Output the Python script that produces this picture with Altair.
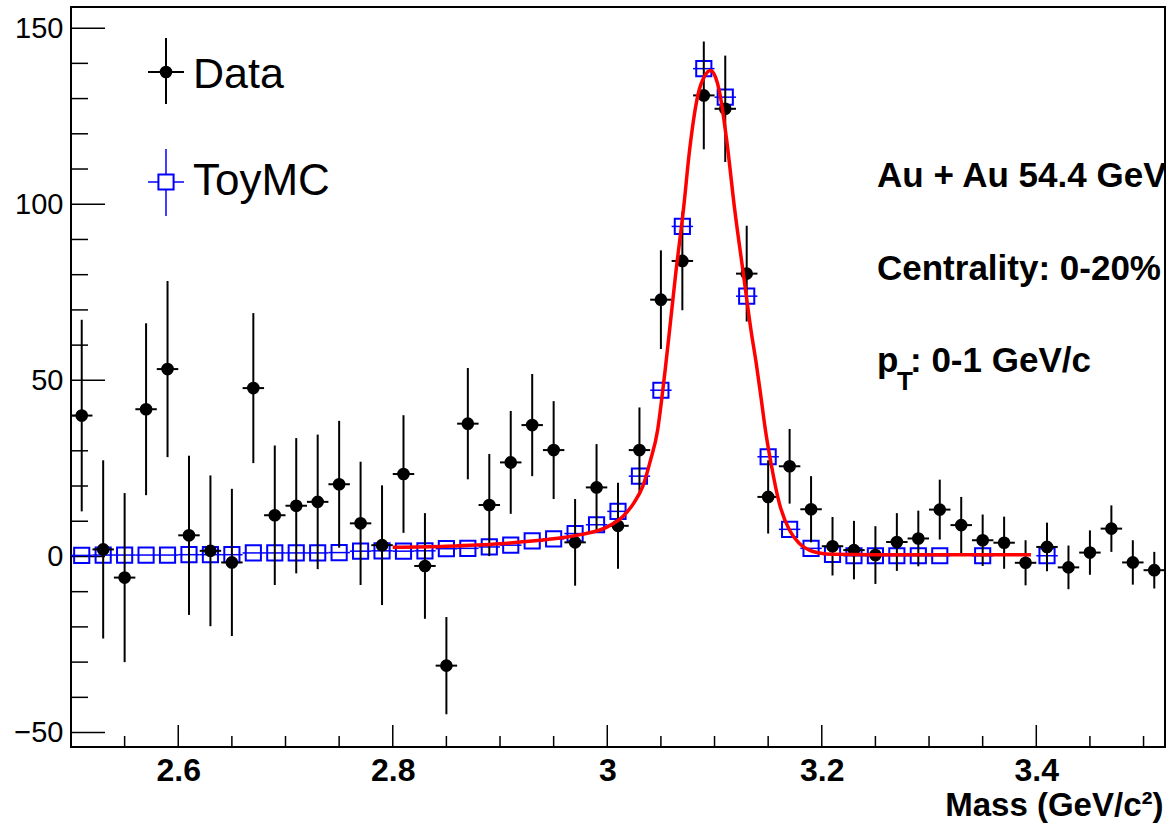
import altair as alt
import pandas as pd

FONT = "Liberation Sans"

# ---- Data ----
mass = [2.51, 2.53, 2.55, 2.57, 2.59, 2.61, 2.63, 2.65, 2.67, 2.69,
        2.71, 2.73, 2.75, 2.77, 2.79, 2.81, 2.83, 2.85, 2.87, 2.89,
        2.91, 2.93, 2.95, 2.97, 2.99, 3.01, 3.03, 3.05, 3.07, 3.09,
        3.11, 3.13, 3.15, 3.17, 3.19, 3.21, 3.23, 3.25, 3.27, 3.29,
        3.31, 3.33, 3.35, 3.37, 3.39, 3.41, 3.43, 3.45, 3.47, 3.49, 3.51]
data_y = [40.0, 2.0, -6.0, 41.8, 53.2, 6.0, 1.6, -1.7, 47.8, 11.7,
          14.4, 15.5, 20.5, 9.4, 3.2, 23.4, -2.7, -31.0, 37.7, 14.6,
          26.7, 37.3, 30.2, 4.0, 19.6, 8.7, 30.2, 72.9, 83.9, 130.9,
          127.1, 80.3, 16.9, 25.6, 13.4, 2.9, 1.8, 0.4, 4.1, 5.1,
          13.3, 8.9, 4.6, 3.9, -1.8, 2.7, -3.1, 1.1, 7.9, -1.7, -3.9]
data_err = [27.2, 25.3, 24.0, 24.4, 25.0, 22.6, 21.4, 20.9, 21.3, 19.8,
            19.2, 19.1, 18.0, 17.5, 17.0, 16.7, 15.0, 13.8, 15.8, 14.5,
            14.6, 14.5, 13.9, 12.3, 12.3, 12.2, 12.1, 14.0, 14.0, 15.3,
            15.1, 13.6, 10.4, 10.6, 9.4, 8.3, 8.3, 8.2, 8.2, 7.9,
            8.5, 8.0, 7.3, 7.4, 6.4, 6.9, 6.2, 6.3, 6.6, 6.3, 5.2]
bin_half = 0.01

toy_mass = [2.51, 2.53, 2.55, 2.57, 2.59, 2.61, 2.63, 2.65, 2.67, 2.69,
            2.71, 2.73, 2.75, 2.77, 2.79, 2.81, 2.83, 2.85, 2.87, 2.89,
            2.91, 2.93, 2.95, 2.97, 2.99, 3.01, 3.03, 3.05, 3.07, 3.09,
            3.11, 3.13, 3.15, 3.17, 3.19, 3.21, 3.23, 3.25, 3.27, 3.29,
            3.31, 3.35, 3.41]
toy_y = [0.3, 0.4, 0.4, 0.4, 0.4, 0.5, 0.5, 0.5, 1.0, 1.0,
         1.0, 1.0, 1.1, 1.5, 1.6, 1.5, 1.6, 2.2, 2.3, 2.7,
         3.2, 4.4, 5.0, 6.5, 9.0, 12.8, 22.8, 47.2, 93.7, 138.5,
         130.4, 73.9, 28.3, 7.7, 2.3, 0.6, 0.2, 0.2, 0.2, 0.2,
         0.2, 0.2, 0.2]

fit_mass = [2.80, 2.85, 2.90, 2.93, 2.95, 2.975, 3.00, 3.015, 3.025, 3.033,
            3.04, 3.047, 3.0505, 3.054, 3.058, 3.0637, 3.0712, 3.0766, 3.0845, 3.091,
            3.0962, 3.101, 3.1046, 3.1114, 3.1186, 3.127, 3.1341, 3.1388, 3.1434, 3.1474,
            3.1527, 3.1605, 3.1698, 3.1791, 3.1884, 3.1978, 3.21, 3.25, 3.30, 3.35, 3.395]
fit_y = [2.6, 2.9, 3.6, 4.4, 5.0, 6.2, 8.4, 11.5, 15.3, 19.8,
         27.0, 36.0, 44.0, 53.0, 64.0, 80.0, 99.0, 115.0, 131.0, 136.5,
         138.0, 136.0, 132.0, 118.0, 99.0, 80.0, 64.0, 55.0, 45.0, 36.0,
         26.4, 15.0, 7.5, 3.7, 1.8, 1.0, 0.6, 0.5, 0.5, 0.5, 0.5]

x_major = [2.6, 2.8, 3.0, 3.2, 3.4]
x_minor = [2.55, 2.65, 2.7, 2.75, 2.85, 2.9, 2.95, 3.05, 3.1, 3.15,
           3.25, 3.3, 3.35, 3.45, 3.5]
y_major = [-50, 0, 50, 100, 150]
y_minor = [-40, -30, -20, -10, 10, 20, 30, 40, 60, 70, 80, 90,
           110, 120, 130, 140]

W, H = 1094, 740

xs = alt.Scale(domain=[2.5, 3.52], nice=False, zero=False)
ys = alt.Scale(domain=[-54.1, 156.0], nice=False, zero=False)

xaxis = alt.Axis(values=x_major, format="~g", labelFont=FONT, labelFontSize=32,
                 labelFontWeight="bold", labelColor="black", labelPadding=8,
                 ticks=False, tickSize=0, domain=False, grid=False,
                 labelOverlap=False,
                 title="Mass (GeV/c²)", titleFont=FONT, titleFontSize=33,
                 titleFontWeight="bold", titleColor="black",
                 titleX=1092, titleY=68, titleAlign="right",
                 titleBaseline="alphabetic")
yaxis = alt.Axis(values=y_major, labelFont=FONT, labelFontSize=29,
                 labelColor="black", labelPadding=8, ticks=False, tickSize=0,
                 domain=False, grid=False, labelOverlap=False, title="")


def X(field):
    return alt.X(field, type="quantitative", scale=xs, axis=xaxis,
                 title="Mass (GeV/c²)")


def Y(field):
    return alt.Y(field, type="quantitative", scale=ys, axis=yaxis, title="")


df = pd.DataFrame({"mass": mass, "y": data_y, "err": data_err})
df_toy = pd.DataFrame({"mass": toy_mass, "y": toy_y})
df_fit = pd.DataFrame({"mass": fit_mass, "y": fit_y})

base = alt.Chart(df).transform_calculate(
    lo="datum.y - datum.err", hi="datum.y + datum.err",
    xlo=f"datum.mass - {bin_half}", xhi=f"datum.mass + {bin_half}")

data_v = base.mark_rule(color="black", strokeWidth=2).encode(
    x=X("mass"), y=Y("lo"), y2="hi:Q")
data_h = base.mark_rule(color="black", strokeWidth=2).encode(
    x=X("xlo"), x2="xhi:Q", y=Y("y"))
data_pts = base.mark_point(shape="circle", filled=True, color="black",
                           size=160, opacity=1).encode(x=X("mass"), y=Y("y"))

toy_base = alt.Chart(df_toy).transform_calculate(
    xlo=f"datum.mass - {bin_half}", xhi=f"datum.mass + {bin_half}")
toy_h = toy_base.mark_rule(color="#0000ff", strokeWidth=1.5).encode(
    x=X("xlo"), x2="xhi:Q", y=Y("y"))
toy_pts = toy_base.mark_point(shape="square", filled=False, color="#0000ff",
                              size=230, strokeWidth=2, opacity=1).encode(
    x=X("mass"), y=Y("y"))

fit_line = alt.Chart(df_fit).mark_line(color="#ff0000", strokeWidth=3.5,
                                       interpolate="monotone").encode(
    x=X("mass"), y=Y("y"))

# inner ticks (ROOT style)
ymaj = alt.Chart(pd.DataFrame({"v": y_major})).mark_rule(
    color="black", strokeWidth=1.5).encode(
    y=Y("v"), x=alt.value(0), x2=alt.value(34))
ymin = alt.Chart(pd.DataFrame({"v": y_minor})).mark_rule(
    color="black", strokeWidth=1.5).encode(
    y=Y("v"), x=alt.value(0), x2=alt.value(17))
xmaj = alt.Chart(pd.DataFrame({"v": x_major})).mark_rule(
    color="black", strokeWidth=1.5).encode(
    x=X("v"), y=alt.value(H), y2=alt.value(H - 22))
xmin = alt.Chart(pd.DataFrame({"v": x_minor})).mark_rule(
    color="black", strokeWidth=1.5).encode(
    x=X("v"), y=alt.value(H), y2=alt.value(H - 11))

# legend
one = pd.DataFrame({"k": [0]})
leg_data_v = alt.Chart(one).mark_rule(color="black", strokeWidth=2).encode(
    x=alt.value(95), y=alt.value(31), y2=alt.value(97))
leg_data_h = alt.Chart(one).mark_rule(color="black", strokeWidth=2).encode(
    x=alt.value(77), x2=alt.value(113), y=alt.value(65))
leg_data_pt = alt.Chart(one).mark_point(shape="circle", filled=True, color="black",
                                        size=160, opacity=1).encode(
    x=alt.value(95), y=alt.value(65))
leg_toy_v = alt.Chart(one).mark_rule(color="#0000ff", strokeWidth=1.5).encode(
    x=alt.value(95), y=alt.value(142), y2=alt.value(209))
leg_toy_h = alt.Chart(one).mark_rule(color="#0000ff", strokeWidth=1.5).encode(
    x=alt.value(77), x2=alt.value(113), y=alt.value(175))
leg_toy_pt = alt.Chart(one).mark_point(shape="square", filled=False, fill="white",
                                       color="#0000ff", size=230, strokeWidth=2,
                                       fillOpacity=1, opacity=1).encode(
    x=alt.value(95), y=alt.value(175))
leg_data_t = alt.Chart(one).mark_text(text="Data", font=FONT, fontSize=43,
                                      align="left", baseline="alphabetic",
                                      color="black").encode(
    x=alt.value(122), y=alt.value(81))
leg_toy_t = alt.Chart(one).mark_text(text="ToyMC", font=FONT, fontSize=44,
                                     align="left", baseline="alphabetic",
                                     color="black").encode(
    x=alt.value(122), y=alt.value(188))


# annotations
def ann(txt, x, y, size=35, weight="bold"):
    return alt.Chart(one).mark_text(text=txt, font=FONT, fontSize=size,
                                    fontWeight=weight, align="left",
                                    baseline="alphabetic", color="black",
                                    clip=True).encode(
        x=alt.value(x), y=alt.value(y))


ann1 = ann("Au + Au 54.4 GeV", 806, 180)
ann2 = ann("Centrality: 0-20%", 806, 273)
ann3a = ann("p", 806, 365)
ann3b = ann("T", 826, 383, size=26)
ann3c = ann(": 0-1 GeV/c", 839, 365)

chart = alt.layer(
    ymaj, ymin, xmaj, xmin,
    toy_h, toy_pts,
    data_v, data_h, data_pts,
    fit_line,
    leg_data_v, leg_data_h, leg_data_pt, leg_toy_v, leg_toy_h, leg_toy_pt,
    leg_data_t, leg_toy_t,
    ann1, ann2, ann3a, ann3b, ann3c,
).properties(
    width=W, height=H,
    autosize=alt.AutoSizeParams(type="none"),
    padding={"left": 71, "top": 7, "right": 6, "bottom": 80},
    background="white",
).configure_view(stroke="black", strokeWidth=2)

chart.save("out.html", embed_options={"renderer": "svg", "actions": False})
